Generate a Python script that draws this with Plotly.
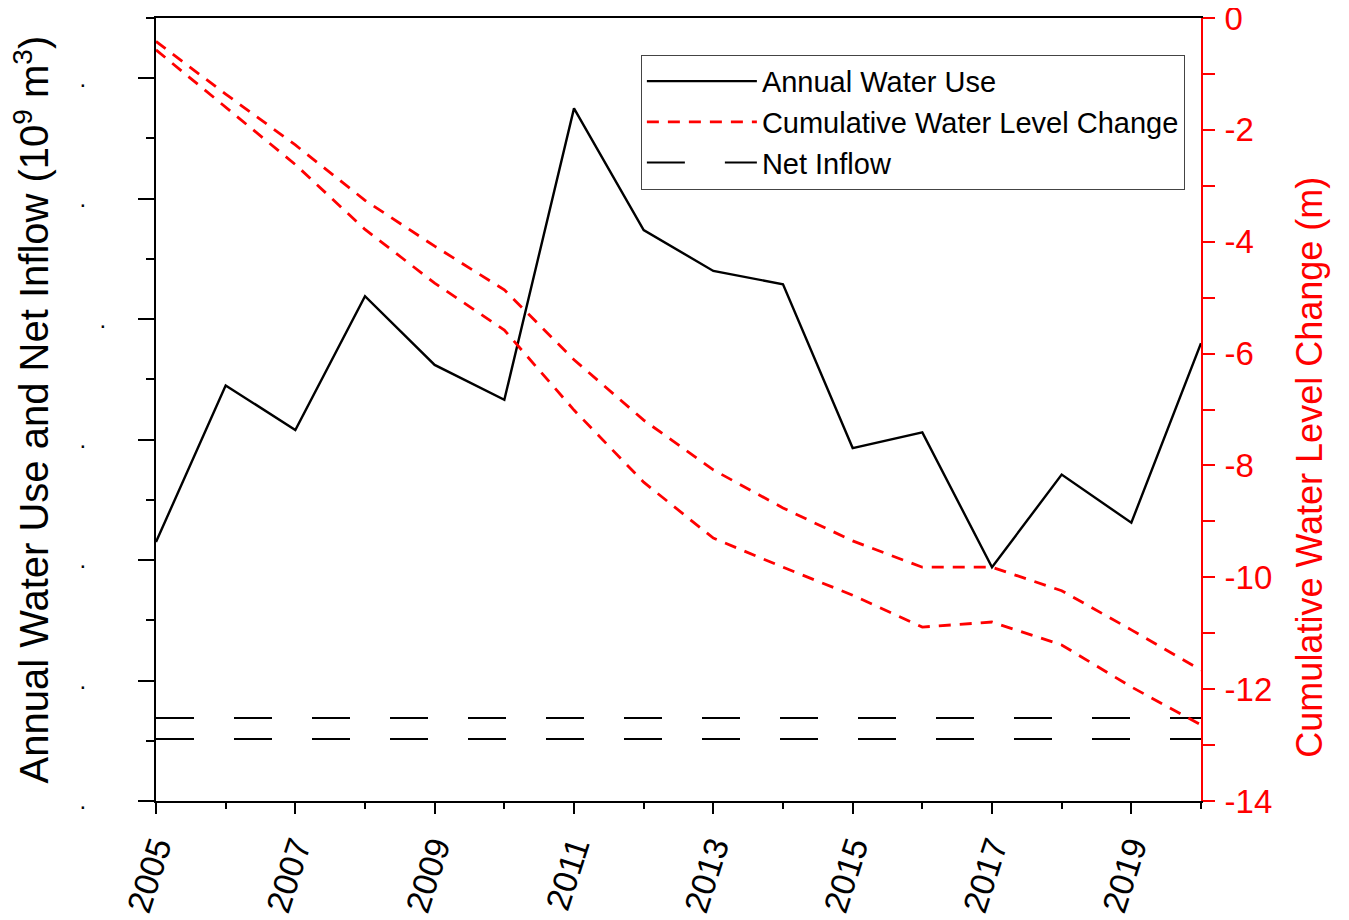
import plotly.graph_objects as go

years = list(range(2005, 2021))
water_use = [2.15, 3.45, 3.08, 4.19, 3.62, 3.33, 5.75, 4.74, 4.40, 4.29, 2.93, 3.06, 1.94, 2.71, 2.31, 3.80]
net_inflow_upper = [0.69] * len(years)
net_inflow_lower = [0.515] * len(years)
level_upper = [-0.42, -1.36, -2.27, -3.26, -4.08, -4.86, -6.11, -7.19, -8.08, -8.76, -9.35, -9.82, -9.82, -10.24, -10.94, -11.66]
level_lower = [-0.57, -1.59, -2.62, -3.78, -4.74, -5.58, -7.01, -8.30, -9.30, -9.82, -10.32, -10.89, -10.80, -11.21, -11.96, -12.64]

left_tickvals = [0, 1, 2, 3, 4, 5, 6]
left_ticktext = [".\u00a0\u00a0\u00a0"] * 7
left_ticktext[4] = "."
right_tickvals = [0, -2, -4, -6, -8, -10, -12, -14]
right_ticktext = ["0", "-2", "-4", "-6", "-8", "-10", "-12", "-14"]
x_tickvals = list(range(2005, 2020, 2))

left_title = "Annual Water Use and Net Inflow (10<sup>9</sup> m<sup>3</sup>)"
right_title = "Cumulative Water Level Change (m)"

FONT = "Liberation Sans, Arial, sans-serif"

fig = go.Figure()
fig.add_trace(go.Scatter(x=years, y=water_use, mode="lines", name="Annual Water Use",
                         line=dict(color="black", width=2.4)))
fig.add_trace(go.Scatter(x=years, y=level_upper, mode="lines", name="Cumulative Water Level Change",
                         yaxis="y2", line=dict(color="#ff0000", width=2.8, dash="12px,9px")))
fig.add_trace(go.Scatter(x=years, y=level_lower, mode="lines", name="Cumulative Water Level Change",
                         yaxis="y2", showlegend=False, line=dict(color="#ff0000", width=2.8, dash="12px,9px")))
fig.add_trace(go.Scatter(x=years, y=net_inflow_upper, mode="lines", name="Net Inflow",
                         line=dict(color="black", width=2, dash="38px,40px")))
fig.add_trace(go.Scatter(x=years, y=net_inflow_lower, mode="lines", name="Net Inflow", showlegend=False,
                         line=dict(color="black", width=2, dash="38px,40px")))

fig.update_layout(
    width=1349, height=920,
    margin=dict(l=148, r=156, t=10, b=127, autoexpand=False),
    paper_bgcolor="white", plot_bgcolor="white",
    font=dict(family=FONT, color="black"),
    showlegend=True,
    legend=dict(x=0.464, y=0.953, xanchor="left", yanchor="top",
                bgcolor="white", bordercolor="#444", borderwidth=1,
                font=dict(size=29, family=FONT), itemwidth=110,
                tracegroupgap=0),
    xaxis=dict(range=[2005, 2020], tickvals=x_tickvals, ticktext=[str(v) for v in x_tickvals],
               tickangle=-72, tickfont=dict(size=34, family=FONT),
               ticks="outside", ticklen=11, tickwidth=2, tickcolor="black",
               minor=dict(dtick=1, ticks="outside", ticklen=6, tickwidth=2, tickcolor="black"),
               showline=True, linecolor="black", linewidth=2, mirror=True,
               showgrid=False, zeroline=False),
    yaxis=dict(range=[0, 6.5], tickvals=left_tickvals, ticktext=left_ticktext,
               tickfont=dict(size=24, family=FONT), ticklabelstandoff=27,
               ticks="outside", ticklen=16, tickwidth=2, tickcolor="black",
               minor=dict(dtick=0.5, ticks="outside", ticklen=8, tickwidth=2, tickcolor="black"),
               showline=True, linecolor="black", linewidth=2,
               showgrid=False, zeroline=False),
    yaxis2=dict(range=[-14, 0], overlaying="y", side="right",
                tickvals=right_tickvals, ticktext=right_ticktext,
                tickfont=dict(size=33, family=FONT, color="#ff0000"),
                ticklabeloverflow="allow", ticklabelstandoff=3,
                ticks="outside", ticklen=12, tickwidth=2, tickcolor="#ff0000",
                minor=dict(dtick=1, ticks="outside", ticklen=12, tickwidth=2, tickcolor="#ff0000"),
                showline=True, linecolor="#ff0000", linewidth=2,
                showgrid=False, zeroline=False),
    annotations=[
        dict(text=left_title, textangle=-90, xref="paper", yref="paper",
             x=-0.1196, y=0.5, xanchor="center", yanchor="middle", showarrow=False,
             font=dict(size=40, family=FONT, color="black")),
        dict(text=right_title, textangle=-90, xref="paper", yref="paper",
             x=1.1043, y=0.427, xanchor="center", yanchor="middle", showarrow=False,
             font=dict(size=36, family=FONT, color="#ff0000")),
    ],
)

fig.write_html("out.html")
